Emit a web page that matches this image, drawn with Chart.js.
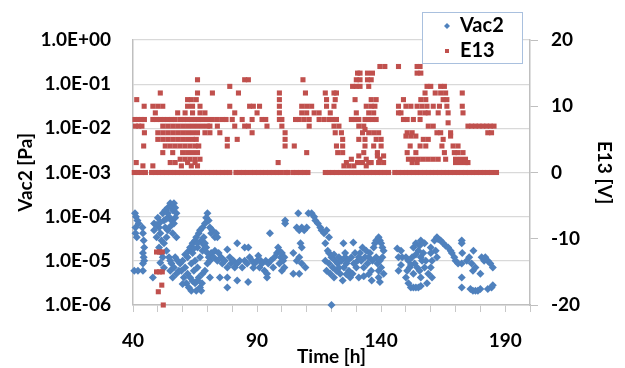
<!DOCTYPE html>
<html>
<head>
<meta charset="utf-8">
<script src="https://cdn.jsdelivr.net/npm/chart.js@4.4.1/dist/chart.umd.min.js"></script>
<style>
  body { margin: 0; background: #fff; }
  #wrap { width: 625px; height: 368px; position: relative; }
</style>
</head>
<body>
<div id="wrap"><canvas id="vacChart"></canvas></div>
<script>
// tick labels
const xTickLabels = [40, 90, 140, 190];
const vacTicks = [1e-6, 1e-5, 1e-4, 1e-3, 1e-2, 1e-1, 1];
const vacTickLabels = ['1.0E-06', '1.0E-05', '1.0E-04', '1.0E-03', '1.0E-02', '1.0E-01', '1.0E+00'];

// E13 readings sitting on 0 V (time in h)
const e13ZeroTimes = [
  40.5, 42, 43.5, 45, 47.5, 49, 50.5, 52, 53.5, 55, 56.5, 58, 59.5, 61, 62.5, 64, 65.5, 67, 68.5, 70,
  71.5, 73, 74.5, 76, 77.5, 79, 81.5, 83, 84.5, 86, 87.5, 89, 90.5, 92, 93.5, 95, 96.5, 98, 99.5,
  101.5, 102.5, 104.5, 106, 107.5, 109, 110.5, 117.5, 119, 120.5, 122, 123.5, 125, 126.5, 128, 129.5,
  131, 132.5, 134, 135.5, 137, 138.5, 140, 141.5, 143, 145.5, 147, 148.5, 150, 151.5, 153, 154.5, 156,
  157.5, 159, 160.5, 162, 163.5, 165, 166.5, 168, 169.5, 171, 172.5, 174, 175.5, 177, 178.5, 180,
  181.5, 183, 184.5, 186.5
];

// other E13 readings [time h, V]
const e13Points = [
  [41.5, 11], [44.5, 10], [40.8, 8], [42, 8], [43.3, 8], [44.6, 8], [41, 7], [42.3, 7], [43.6, 7],
  [44.6, 6], [44.3, 4], [41.3, 1.5], [44, 1],
  [51, 12], [48, 10], [50, 10], [52, 10], [49, 9], [58, 9],
  [48, 8], [49.5, 8], [51, 8], [52.5, 8], [54, 8], [55.5, 8], [57, 8], [59, 8], [60.5, 8], [62, 8],
  [63.5, 8], [65, 8], [66.5, 8], [68, 8], [70, 8], [72, 8], [74, 8], [76, 8], [77.5, 8], [80, 8],
  [84, 8], [88, 8], [92, 8],
  [61, 9], [64, 9], [67, 9], [69, 9], [81, 9], [90, 9],
  [52, 7], [54, 7], [56, 7], [58, 7], [60, 7], [62, 7], [64, 7], [66, 7], [68, 7], [70, 7], [71, 7],
  [74, 7], [81, 7], [85, 7], [86.5, 7], [94, 7],
  [50, 6], [52, 6], [54, 6], [56, 6], [58, 6], [60, 6], [62, 6], [64, 6], [66, 6], [69, 6], [71, 6],
  [75, 6], [88, 6],
  [50, 5], [52, 5], [54, 5], [56, 5], [58, 5], [60, 5], [62, 5], [64, 5], [65.5, 5], [78, 5], [82, 5],
  [53, 4], [55, 4], [57, 4], [59, 4], [61, 4], [63, 4], [65, 4], [66.5, 4], [78, 4],
  [52, 3], [56, 3], [60, 3], [62, 3], [64, 3], [66, 3],
  [59, 2], [61, 2], [63, 2], [65, 2], [67, 2],
  [55, 1.5], [57, 1.5], [62, 1.5], [65, 1.5], [48, 1], [59.5, 1], [63.5, 1], [66, 1],
  [62, 11], [63.5, 11], [65.5, 11], [62, 10], [64, 10], [67, 10], [79, 10], [87, 10], [88.5, 10], [91, 10],
  [66, 12], [72, 12], [82.5, 12], [79, 13], [66, 14], [85, 14], [86.5, 14],
  [93.5, 8], [99, 8], [100, 8], [105.5, 8], [107, 8], [109, 8], [111, 8], [100, 7], [111, 7],
  [99, 12], [109.5, 12], [99, 11], [99, 10], [108, 10], [110, 10], [112, 10],
  [99, 9], [108, 9], [110, 9], [113, 9], [115, 9], [108.5, 14],
  [101.3, 6], [101.3, 5], [101.3, 4], [105, 4], [110, 3], [98.5, 1.5],
  [115, 8], [117, 8], [119, 8], [120.5, 8], [122, 8], [117.5, 12], [121, 12], [122, 12],
  [118, 11], [121.5, 11], [118, 10], [121, 10], [119.5, 9], [121, 7], [123, 7], [121.5, 6], [124, 6],
  [124.5, 5], [122, 4], [124.5, 4], [122.5, 3], [124.5, 3],
  [139.5, 16], [141.5, 16], [130.5, 15], [131.5, 15], [134.5, 15], [136.5, 15],
  [130, 14], [131.5, 14], [134.5, 14], [136, 14], [128.5, 13], [130, 13], [131.5, 13], [135, 13],
  [129.5, 11], [136, 11], [138, 11], [134, 10], [136, 10], [137.5, 10], [130, 9], [135, 9], [137, 9],
  [128, 8], [129.5, 8], [131, 8], [133.5, 8], [135, 8], [136.5, 8], [138, 8], [131, 7], [133, 7],
  [133.5, 6.5], [132.5, 6], [135, 6], [137, 6], [139, 6], [131, 5], [133.5, 5], [138, 5], [140, 5],
  [133.5, 4], [137, 4], [140, 4], [133, 3], [138.5, 3], [131, 2.5], [138.5, 2.5], [141, 2.5],
  [128, 2], [134, 2], [139.5, 2], [126, 1.5], [130.5, 1.5], [132.5, 1.5], [135, 1.5], [136, 1.5],
  [139, 1.5], [141, 1.5], [125, 1], [127, 1], [129, 1], [134, 1],
  [147, 16], [154.5, 16], [155.7, 16], [154.5, 15], [156, 15], [158.5, 13], [160, 13],
  [157.7, 12], [161.8, 12], [149, 11], [156, 11], [158, 11],
  [147, 10], [150, 10], [152, 10], [154.5, 10], [156.5, 10], [158.5, 10], [161, 10], [163.5, 10],
  [147, 9], [148, 9], [155.7, 9], [157.7, 9], [159, 9], [163, 9],
  [149, 8], [150.5, 8], [153, 8], [155.7, 8], [159, 7], [161, 7], [150.5, 6], [152.5, 6], [162.5, 6],
  [150, 5.5], [152, 5.5], [154, 5.5], [157, 5], [159, 5], [151.7, 4], [155.7, 4], [158, 4],
  [150.5, 3], [154, 3], [151, 2], [153, 2], [155, 2], [157, 2], [159, 2], [161, 2], [163, 2],
  [152.5, 1.5], [154.5, 1.5],
  [164, 13], [165.5, 13], [164, 12], [166, 12], [172.7, 12], [165, 11], [166.5, 11],
  [166.5, 10], [172.7, 10], [167, 9], [173, 9], [167, 7.5],
  [175, 7], [176.5, 7], [178, 7], [179.5, 7], [181, 7], [182.5, 7], [184, 7], [185.5, 7],
  [164, 6], [168, 6], [183, 6], [184.5, 6], [168, 5.5], [165, 5], [164.5, 4], [169, 4], [171, 4],
  [165.5, 3], [169.5, 3], [171, 3], [173, 3], [166, 2], [170, 2], [172, 2], [174, 2],
  [170, 1.5], [172, 1.5], [174, 1.5], [175, 1.5],
  [49.5, -12], [50.7, -12], [51.8, -12], [49.5, -15], [50.7, -15], [51.8, -15],
  [51.6, -17], [50.2, -18], [52.2, -20]
];

// Vac2 readings [time h, Pa]
const vac2Points = [
  [40.8, 1.2e-4], [41.2, 1.0e-4], [41.8, 8.2e-5], [42.3, 7e-5], [41, 5.7e-5], [41, 4.2e-5], [41.5, 3.4e-5],
  [40.5, 6e-6], [42, 6e-6], [44, 6e-6],
  [43.8, 5.7e-5], [44, 4.2e-5], [44.3, 2.9e-5], [44.5, 2e-5], [44, 1.5e-5], [44.3, 1.2e-5], [44.5, 1.0e-5], [44, 8.7e-6],
  [48, 4.2e-6], [48.5, 7e-5], [48.5, 4.9e-5], [49.5, 3.4e-5], [50, 9.5e-5], [50.5, 5.7e-5], [51, 4.2e-5],
  [51.5, 2.9e-5], [52, 1.2e-4], [52.5, 8.2e-5], [53, 5.7e-5], [53.5, 3.4e-5], [49.5, 6.5e-5], [51, 7.5e-5],
  [53, 1.4e-4], [54, 1.6e-4], [55, 2e-4], [55.5, 1.7e-4], [56, 1.4e-4], [56.5, 2.0e-4], [57, 1.6e-4],
  [57.5, 1.2e-4], [54.5, 1.0e-4], [55.5, 8.2e-5], [56.5, 7e-5], [57, 9.5e-5], [54, 1.2e-4], [53.5, 9e-5],
  [54, 4.9e-5], [56, 4.2e-5], [57.5, 3.4e-5], [55, 6e-5], [52.5, 2.5e-5],
  [50.5, 2e-5], [51.5, 1.5e-5], [52, 1.2e-5], [51, 9e-6], [52.5, 7e-6],
  [53.5, 1.7e-5], [54.5, 1.2e-5], [55, 1.0e-5], [55.5, 8.7e-6], [56.5, 7.1e-6], [57, 1.2e-5], [58, 1.0e-5],
  [58.5, 6e-6], [57.5, 5.1e-6], [56, 4.2e-6], [55, 6e-6],
  [59, 8.7e-6], [59.5, 6e-6], [60, 1.0e-5], [60.5, 4.2e-6], [61, 7.1e-6], [61.5, 3.1e-6], [62, 5.1e-6],
  [62, 1.2e-5], [62.5, 2.5e-6], [63, 4.2e-6], [63.5, 8.7e-6], [63.5, 2.1e-6], [64, 1.5e-5], [64.5, 6e-6],
  [65, 3.1e-6], [65, 1.0e-5], [65.5, 2.1e-6], [66, 2e-5], [66, 7.1e-6], [66.5, 4.2e-6], [67, 2.5e-6],
  [67, 1.2e-5], [67.5, 2.1e-6], [68, 5.1e-6], [68, 1.7e-5], [60, 3e-6], [61, 1.4e-5], [64, 3.5e-6],
  [62.5, 1.7e-5], [63, 2e-5], [64, 2.5e-5], [65, 2.9e-5], [65.5, 3.4e-5], [66.5, 4.2e-5], [67, 4.9e-5],
  [67.5, 2.9e-5], [68, 5.7e-5], [68.5, 3.4e-5], [69, 7e-5], [69.5, 9.5e-5], [70, 1.2e-4], [70.5, 8.2e-5],
  [64.5, 1.9e-5], [66, 2.5e-5], [68.5, 2.3e-5],
  [71, 5.7e-5], [71.5, 4.2e-5], [72, 4.9e-5], [73, 3.4e-5], [73.5, 4.2e-5], [74, 3.4e-5],
  [69, 2.5e-5], [69.5, 2e-5], [70, 1.5e-5], [70.5, 1.2e-5], [71, 1.0e-5], [70, 8.7e-6], [69, 6e-6],
  [71, 4.2e-6], [67.8, 3.1e-6], [66, 3.6e-6],
  [71.5, 1.5e-5], [72.5, 1.2e-5], [73, 1.7e-5], [74, 1.0e-5], [74.5, 1.5e-5], [75.5, 1.2e-5], [76, 8.7e-6],
  [77, 1.0e-5], [78, 7.1e-6], [79, 1.2e-5], [75, 4.2e-6], [78, 1.8e-5], [78, 4.2e-6], [78, 2.5e-6],
  [79.5, 8.7e-6], [80.5, 1.0e-5], [81, 7.1e-6], [82, 8.7e-6], [83, 1.0e-5], [82, 2.5e-5], [82, 3.6e-6],
  [85, 2e-5], [86.5, 2e-5], [86.4, 3.3e-6],
  [84, 7.1e-6], [85, 1.0e-5], [86, 8.7e-6], [87, 1.2e-5], [88, 1.0e-5], [89, 8.7e-6], [90, 1.0e-5],
  [91, 7.1e-6], [91.5, 1.0e-5], [92, 8.7e-6], [93, 6e-6], [94, 5.1e-6], [88.5, 7e-6], [90.5, 1.3e-5],
  [93.5, 1.0e-5], [94.5, 8.7e-6], [95.5, 1.0e-5], [96.5, 7.1e-6], [97, 1.2e-5], [98, 1.5e-5],
  [99, 8.7e-6], [100, 6e-6], [99.5, 1.2e-5], [100.5, 1.0e-5], [94, 4.2e-6], [95.2, 4.2e-5],
  [98.5, 2e-5], [99, 1.7e-5], [100, 1.5e-5], [101, 1.2e-5], [101, 7.1e-6],
  [101.3, 8.2e-5], [101.3, 7e-5], [104.6, 1.5e-5], [104.6, 5.1e-6], [106.6, 1.2e-4],
  [106, 5.7e-5], [107, 4.9e-5], [108, 5.7e-5], [109, 4.9e-5], [110, 5.7e-5],
  [107.5, 2.5e-5], [108, 2e-5],
  [106, 1.0e-5], [107, 1.2e-5], [108, 8.7e-6], [109.5, 7.1e-6], [107, 5.1e-6],
  [110.7, 1.2e-4], [112, 1.2e-4], [113, 1.0e-4], [113.5, 8.2e-5], [114.5, 7e-5], [115.5, 5.7e-5],
  [116, 4.9e-5], [117, 4.2e-5], [118, 4.9e-5], [119, 3.4e-5], [117.5, 2.5e-5], [118.5, 1.7e-5], [119, 1.5e-5],
  [117.5, 1.0e-5], [118, 6e-6], [119, 8.7e-6], [119.5, 5.1e-6], [120, 1.2e-5], [120.5, 7.1e-6],
  [121, 4.2e-6], [121.5, 1.0e-5], [122, 6e-6], [122.5, 8.7e-6], [123, 1.2e-5], [123.5, 5.1e-6],
  [124, 1.0e-5], [124.5, 3.6e-6], [125, 7.1e-6], [125.5, 1.2e-5], [126, 8.7e-6], [126.5, 1.0e-5],
  [127, 6e-6], [127.5, 4.2e-6], [128, 1.2e-5], [128.5, 5.1e-6], [129, 8.7e-6], [129.5, 1.5e-5],
  [130, 7.1e-6], [130.5, 1.0e-5], [131, 4.2e-6], [131, 1.2e-5], [121, 1.4e-5], [123, 7e-6], [126, 5e-6],
  [120, 1.0e-6], [124.8, 2.5e-5], [128.8, 2.6e-5], [125.5, 1.5e-5],
  [131.5, 1.5e-5], [132, 1.0e-5], [132.5, 2e-5], [133, 7.1e-6], [133.5, 1.2e-5], [134, 1.7e-5],
  [134.5, 8.7e-6], [135, 1.2e-5], [135.5, 1.5e-5], [136, 6e-6], [136.5, 1.0e-5], [137, 2e-5],
  [133, 4.5e-6], [135, 5e-6],
  [137.5, 2.5e-5], [138, 2.9e-5], [139, 3.4e-5], [139.5, 2.9e-5], [140, 2.5e-5], [140.5, 2e-5], [141, 1.7e-5],
  [138, 1.2e-5], [138.5, 8.7e-6], [139, 6e-6], [139.5, 1.0e-5], [140, 7.1e-6], [140.5, 1.2e-5],
  [141, 5.1e-6], [139, 4.2e-6], [136.2, 3.6e-6], [139.5, 3.3e-6],
  [146.5, 1.9e-5], [147, 1.2e-5], [147, 6e-6],
  [148, 1.7e-5], [148.5, 1.2e-5], [148, 8e-6],
  [150, 1.2e-5], [151, 1.0e-5], [151.5, 7.1e-6], [150.5, 6e-6],
  [150, 4.2e-6], [151, 3.1e-6], [152, 2.5e-6], [153, 2.5e-6], [154, 2.5e-6], [155, 2.5e-6], [156, 2.7e-6],
  [153, 2e-5], [154, 2.5e-5], [155, 1.7e-5], [155.5, 2.2e-5], [156, 1.2e-5], [156.5, 1.0e-5], [157, 1.5e-5],
  [152.5, 1.2e-5], [153.5, 8.7e-6], [154.5, 7.1e-6], [155.5, 6e-6], [157.5, 7.1e-6], [153, 5.1e-6],
  [156, 4.2e-6], [152, 8e-6], [154, 1.4e-5], [158, 1.0e-5],
  [156, 2.9e-5], [157.5, 2.5e-5],
  [160, 2e-5], [160, 1.5e-5], [160.5, 1.0e-5], [160, 7.1e-6], [160.5, 4.2e-6], [159, 5.1e-6], [158.5, 3.1e-6],
  [161.5, 2.9e-5], [162.5, 3.4e-5], [163, 3.1e-5], [164, 2.9e-5], [162, 1.7e-5], [162.5, 1.2e-5],
  [165, 2.5e-5], [166, 2.2e-5], [167, 2e-5], [168, 1.7e-5], [168.5, 1.5e-5], [169.5, 1.2e-5],
  [170, 1.0e-5], [171, 8.7e-6],
  [172.5, 2.9e-5], [172.5, 2.5e-5], [172.7, 1.5e-5], [172.5, 8.7e-6], [172.5, 4.2e-6], [172.5, 2.5e-6],
  [174.5, 1.0e-5], [175.5, 1.2e-5], [176.5, 8.7e-6], [177, 6e-6], [178, 7.1e-6], [177.2, 1.7e-5],
  [176, 2.3e-6], [177, 2.1e-6], [178, 2.1e-6], [179, 2.1e-6], [180, 2.3e-6],
  [180.5, 1.2e-5], [181.5, 1.0e-5], [182, 1.2e-5], [183, 1.0e-5], [184, 8.7e-6], [185, 7.1e-6],
  [180, 5.1e-6], [184.5, 2.5e-6], [185, 2.8e-6], [183, 2.3e-6]
];

const BLUE = '#4F81BD';
const RED = '#C0504D';
const FONT = 'Lato, "Open Sans", sans-serif';

const e13Data = e13ZeroTimes.map(t => ({ x: t, y: 0 }))
  .concat(e13Points.map(p => ({ x: p[0], y: p[1] })));
const vac2Data = vac2Points.map(p => ({ x: p[0], y: p[1] }));

// legend box drawn on top, like the Excel one
const legendBox = {
  id: 'legendBox',
  afterDraw(chart) {
    const ctx = chart.ctx;
    ctx.save();
    ctx.fillStyle = '#fff';
    ctx.fillRect(422, 12, 100, 51);
    ctx.strokeStyle = '#a9c0de';
    ctx.lineWidth = 1;
    ctx.strokeRect(422.5, 12.5, 100, 51);
    ctx.fillStyle = BLUE;
    ctx.beginPath();
    ctx.moveTo(447, 23); ctx.lineTo(450, 26); ctx.lineTo(447, 29); ctx.lineTo(444, 26);
    ctx.closePath();
    ctx.fill();
    ctx.fillStyle = RED;
    ctx.fillRect(445, 49, 4, 4);
    ctx.fillStyle = '#000';
    ctx.font = 'bold 20px ' + FONT;
    ctx.textBaseline = 'middle';
    ctx.fillText(chart.data.datasets[0].label, 460, 26);
    ctx.fillText(chart.data.datasets[1].label, 460, 51);
    ctx.restore();
  }
};

const ctx = document.getElementById('vacChart').getContext('2d');
const chart = new Chart(ctx, {
  type: 'scatter',
  data: {
    datasets: [{
      label: 'Vac2',
      data: vac2Data,
      yAxisID: 'y',
      backgroundColor: BLUE,
      borderColor: BLUE,
      borderWidth: 0,
      pointStyle: 'rectRot',
      pointRadius: 4,
      order: 2,
      clip: false
    }, {
      label: 'E13',
      data: e13Data,
      yAxisID: 'y2',
      backgroundColor: RED,
      borderColor: RED,
      borderWidth: 0,
      pointStyle: 'rect',
      pointRadius: 3.6,
      order: 1,
      clip: false
    }]
  },
  options: {
    responsive: true,
    maintainAspectRatio: false,
    animation: false,
    events: [],
    layout: { padding: { top: 40, left: 0, right: 0, bottom: 0 } },
    plugins: {
      legend: { display: false },
      tooltip: { enabled: false }
    },
    scales: {
      x: {
        type: 'linear',
        min: 40,
        max: 200,
        afterFit: s => { s.height = 63; },
        ticks: {
          stepSize: 10,
          autoSkip: false,
          maxRotation: 0,
          padding: 17,
          color: '#000',
          font: { family: FONT, size: 19, weight: 'bold' },
          callback: v => xTickLabels.includes(v) ? String(v) : ''
        },
        grid: { drawOnChartArea: false, tickLength: 7, color: '#c8c8c8' },
        border: { color: '#bfbfbf', width: 1.5 },
        title: {
          display: true,
          text: 'Time [h]',
          color: '#000',
          padding: { top: -2, bottom: 0 },
          font: { family: FONT, size: 19, weight: 'bold' }
        }
      },
      y: {
        type: 'logarithmic',
        position: 'left',
        min: 1e-6,
        max: 1,
        afterFit: s => { s.width = 133; },
        afterBuildTicks: s => { s.ticks = vacTicks.map(v => ({ value: v, major: true })); },
        ticks: {
          padding: 22,
          color: '#000',
          font: { family: FONT, size: 19, weight: 'bold' },
          callback: v => vacTickLabels[vacTicks.indexOf(v)]
        },
        grid: { color: '#d9d9d9', drawTicks: false, lineWidth: 1.2 },
        border: { color: '#bfbfbf', width: 1.5 },
        title: {
          display: true,
          text: 'Vac2 [Pa]',
          color: '#000',
          padding: 14,
          font: { family: FONT, size: 19, weight: 'bold' }
        }
      },
      y2: {
        type: 'linear',
        position: 'right',
        min: -20,
        max: 20,
        afterFit: s => { s.width = 95; },
        ticks: {
          stepSize: 10,
          padding: 13,
          color: '#000',
          font: { family: FONT, size: 19, weight: 'bold' }
        },
        grid: { drawOnChartArea: false, tickLength: 8, color: '#bfbfbf' },
        border: { color: '#bfbfbf', width: 1.5 },
        title: {
          display: true,
          text: 'E13 [V]',
          color: '#000',
          padding: 9,
          font: { family: FONT, size: 19, weight: 'bold' }
        }
      }
    }
  },
  plugins: [legendBox]
});
</script>
</body>
</html>
